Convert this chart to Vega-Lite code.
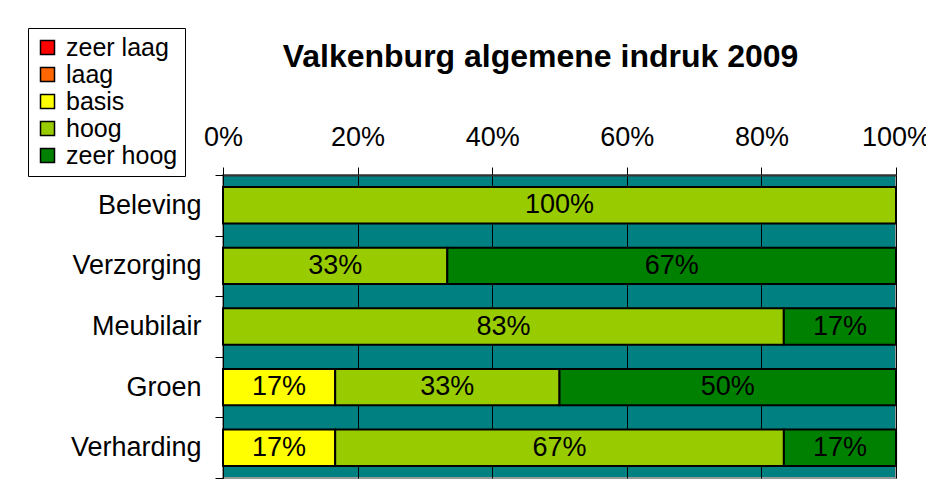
{
  "$schema": "https://vega.github.io/schema/vega-lite/v6.json",
  "width": 673,
  "height": 303,
  "autosize": {"type": "none"},
  "padding": {"left": 223, "top": 175, "right": 30, "bottom": 15},
  "background": "white",
  "config": {
    "font": "Liberation Sans",
    "view": {"fill": "#008080", "stroke": "#999999", "strokeWidth": 2}
  },
  "title": {
    "text": "Valkenburg algemene indruk 2009",
    "font": "Liberation Sans",
    "fontSize": 32,
    "fontWeight": "bold",
    "color": "black",
    "anchor": "middle",
    "dx": -19,
    "offset": -46
  },
  "data": {
    "values": [
      {"cat": "Beleving", "level": "hoog", "value": 1.0},
      {"cat": "Verzorging", "level": "hoog", "value": 0.3333},
      {"cat": "Verzorging", "level": "zeer hoog", "value": 0.6667},
      {"cat": "Meubilair", "level": "hoog", "value": 0.8333},
      {"cat": "Meubilair", "level": "zeer hoog", "value": 0.1667},
      {"cat": "Groen", "level": "basis", "value": 0.1667},
      {"cat": "Groen", "level": "hoog", "value": 0.3333},
      {"cat": "Groen", "level": "zeer hoog", "value": 0.5},
      {"cat": "Verharding", "level": "basis", "value": 0.1667},
      {"cat": "Verharding", "level": "hoog", "value": 0.6667},
      {"cat": "Verharding", "level": "zeer hoog", "value": 0.1667}
    ]
  },
  "transform": [
    {"stack": "value", "groupby": ["cat"], "sort": [{"field": "level", "order": "ascending"}], "as": ["x0", "x1"]},
    {"calculate": "(datum.x0 + datum.x1) / 2", "as": "xm"}
  ],
  "encoding": {
    "y": {
      "field": "cat",
      "type": "nominal",
      "sort": ["Beleving", "Verzorging", "Meubilair", "Groen", "Verharding"],
      "scale": {"paddingInner": 0, "paddingOuter": 0},
      "axis": {
        "title": null,
        "orient": "left",
        "tickBand": "extent",
        "tickSize": 8,
        "tickColor": "black",
        "domainColor": "black",
        "labelPadding": 14,
        "labelFontSize": 27,
        "labelColor": "black",
        "labelFont": "Liberation Sans",
        "grid": false
      }
    }
  },
  "layer": [
    {
      "mark": {"type": "bar", "height": {"band": 0.6}, "stroke": "black", "strokeWidth": 2},
      "encoding": {
        "x": {
          "field": "x0",
          "type": "quantitative",
          "scale": {"domain": [0, 1], "nice": false},
          "axis": {
            "title": null,
            "orient": "top",
            "format": ".0%",
            "values": [0, 0.2, 0.4, 0.6, 0.8, 1],
            "grid": true,
            "gridColor": "black",
            "gridOpacity": 1,
            "gridWidth": 1,
            "tickSize": 8,
            "tickColor": "black",
            "domainColor": "#333333",
            "domainWidth": 2,
            "labelFontSize": 27,
            "labelColor": "black",
            "labelFont": "Liberation Sans",
            "labelPadding": 16,
            "labelFlush": false
          }
        },
        "x2": {"field": "x1"},
        "color": {
          "field": "level",
          "type": "nominal",
          "scale": {
            "domain": ["zeer laag", "laag", "basis", "hoog", "zeer hoog"],
            "range": ["#FF0000", "#FF6600", "#FFFF00", "#99CC00", "#008000"]
          },
          "legend": {
            "title": null,
            "orient": "none",
            "legendX": -195,
            "legendY": -147,
            "strokeColor": "black",
            "fillColor": "white",
            "padding": 7,
            "symbolType": "square",
            "symbolSize": 196,
            "symbolStrokeColor": "black",
            "symbolStrokeWidth": 1.5,
            "symbolOpacity": 1,
            "labelFontSize": 25,
            "labelFont": "Liberation Sans",
            "labelColor": "black",
            "labelOffset": 6,
            "rowPadding": 1
          }
        }
      }
    },
    {
      "mark": {"type": "text", "fontSize": 27, "font": "Liberation Sans", "color": "black"},
      "encoding": {
        "x": {"field": "xm", "type": "quantitative"},
        "text": {"field": "value", "type": "quantitative", "format": ".0%"}
      }
    }
  ]
}
